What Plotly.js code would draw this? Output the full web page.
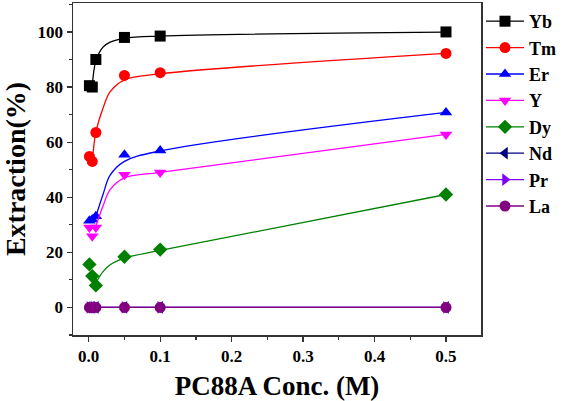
<!DOCTYPE html>
<html>
<head>
<meta charset="utf-8">
<script src="https://cdn.plot.ly/plotly-3.0.1.min.js"></script>
<style>html,body{margin:0;padding:0;background:#fff;}#chart{width:565px;height:401px;}</style>
</head>
<body>
<div id="chart"></div>
<script>
// PC88A concentration (M) of the measured points
const conc = [0.001, 0.005, 0.01, 0.05, 0.1, 0.5];
// Measured extraction (%) for each element
const Yb = [80.5, 80.0, 90.0, 98.0, 98.5, 100.0];
const Tm = [54.8, 53.0, 63.5, 84.2, 85.2, 92.2];
const Er = [31.5, 31.9, 33.1, 55.4, 57.0, 70.8];
const Yv = [29.0, 25.8, 29.0, 48.2, 49.0, 62.8];
const Dy = [15.6, 11.4, 8.0, 18.4, 21.0, 41.0];
const Nd = [0, 0, 0, 0, 0, 0];
const Pr = [0, 0, 0, 0, 0, 0];
const La = [0, 0, 0, 0, 0, 0];
// Fitted curves
const fitX = [0.005, 0.01, 0.02, 0.03, 0.05, 0.1, 0.5];
const fitYb = [80.3, 89.5, 94.5, 96.3, 97.7, 98.5, 99.9];
const fitTm = [53.0, 63.5, 72.3, 78.3, 82.6, 84.8, 92.2];
const fitEr = [null, 33.0, 41.0, 48.0, 53.0, 56.8, 70.8];
const fitY = [null, 29.5, 36.8, 42.8, 47.0, 49.0, 62.8];
const fitDy = [null, 9.0, 13.0, 15.5, 17.9, 20.7, 41.0];
const fitZero = [0, 0, 0, 0, 0, 0, 0];

const series = [
  {name: 'Yb', y: Yb, fit: fitYb, color: '#000000', symbol: 'square'},
  {name: 'Tm', y: Tm, fit: fitTm, color: '#ff0000', symbol: 'circle'},
  {name: 'Er', y: Er, fit: fitEr, color: '#0000ff', symbol: 'triangle-up'},
  {name: 'Y', y: Yv, fit: fitY, color: '#ff00ff', symbol: 'triangle-down'},
  {name: 'Dy', y: Dy, fit: fitDy, color: '#008000', symbol: 'diamond'},
  {name: 'Nd', y: Nd, fit: fitZero, color: '#000080', symbol: 'triangle-left'},
  {name: 'Pr', y: Pr, fit: fitZero, color: '#8000ff', symbol: 'triangle-right'},
  {name: 'La', y: La, fit: fitZero, color: '#800080', symbol: 'circle'}
];
const MS = 11;
const traces = [];
series.forEach(s => {
  traces.push({
    x: fitX, y: s.fit, name: s.name, legendgroup: s.name, showlegend: false,
    mode: 'lines', type: 'scatter', connectgaps: false,
    line: {color: s.color, width: 1.3, shape: 'spline', smoothing: 1}
  });
  traces.push({
    x: conc, y: s.y, name: s.name, legendgroup: s.name, showlegend: false,
    mode: 'markers', type: 'scatter', cliponaxis: false,
    marker: {color: s.color, symbol: s.symbol, size: MS}
  });
  // legend entry (line + symbol)
  traces.push({
    x: [null], y: [null], name: s.name, legendgroup: s.name,
    mode: 'lines+markers', type: 'scatter',
    line: {color: s.color, width: 1.3},
    marker: {color: s.color, symbol: s.symbol, size: MS}
  });
});
const fnt = {family: 'Liberation Serif, Times New Roman, serif', color: '#000'};
const layout = {
  width: 565, height: 401,
  margin: {l: 73, r: 81, t: 3, b: 66},
  paper_bgcolor: '#fff', plot_bgcolor: '#fff',
  showlegend: true,
  legend: {x: 1.0, xanchor: 'left', y: 1.0, yanchor: 'top',
    itemwidth: 38,
    font: Object.assign({}, fnt, {size: 18, weight: 'bold'}),
    tracegroupgap: 0, bgcolor: 'rgba(0,0,0,0)'},
  xaxis: {
    range: [-0.022, 0.549], showgrid: false, zeroline: false,
    showline: true, linecolor: '#333', linewidth: 1.5, mirror: true,
    ticks: 'outside', ticklen: 5, tickwidth: 1.2, tickcolor: '#333',
    tick0: 0, dtick: 0.1, tickformat: '.1f',
    minor: {ticks: 'outside', ticklen: 3, dtick: 0.05, tickcolor: '#333', showgrid: false},
    tickfont: Object.assign({}, fnt, {size: 17, weight: 'bold'}),
    title: {text: 'PC88A Conc. (M)', font: Object.assign({}, fnt, {size: 27, weight: 'bold'}), standoff: 14}
  },
  yaxis: {
    range: [-10, 110.5], showgrid: false, zeroline: false,
    showline: true, linecolor: '#333', linewidth: 1.5, mirror: true,
    ticks: 'outside', ticklen: 5, tickwidth: 1.2, tickcolor: '#333',
    tick0: 0, dtick: 20,
    minor: {ticks: 'outside', ticklen: 3, dtick: 10, tickcolor: '#333', showgrid: false},
    tickfont: Object.assign({}, fnt, {size: 17, weight: 'bold'}),
    title: {text: 'Extraction(%)', font: Object.assign({}, fnt, {size: 28, weight: 'bold'}), standoff: 5}
  }
};
Plotly.newPlot('chart', traces, layout, {displayModeBar: false, staticPlot: true});
</script>
</body>
</html>
